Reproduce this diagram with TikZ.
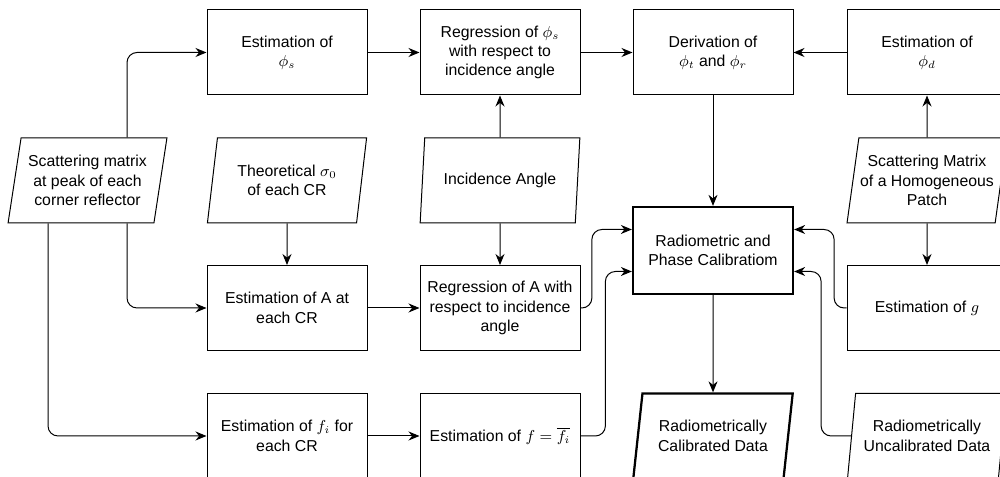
\documentclass[tikz,border=0pt]{standalone}
\usepackage{fontspec}
\setmainfont{Liberation Sans}
\usetikzlibrary{shapes.geometric,arrows.meta,calc}
\tikzset{
  procbox/.style={draw,line width=0.02cm,minimum width=3.2cm,minimum height=1.7cm,
    align=center,inner sep=1pt,font=\fontsize{9}{11}\selectfont},
  databox/.style={procbox,trapezium,trapezium left angle=77,trapezium right angle=103,
    trapezium stretches=true,inner sep=0pt},
  thickbox/.style={line width=0.045cm},
  flow/.style={line width=0.02cm,-{Stealth[length=0.22cm,width=0.18cm]},rounded corners=0.2cm}
}
\begin{document}
\begin{tikzpicture}
                \useasboundingbox (0.000000,0.000000) rectangle (20.000000,9.540000);
                
                % Input data
                \node [databox] (sm) at (1.750000,5.930000) {Scattering matrix\\at peak of each\\corner reflector};
                \node [databox] (theo) at (5.740000,5.930000) {Theoretical $\sigma_0$\\of each CR};
                \node [databox] (inc) at (10.000000,5.930000) {Incidence Angle};
                \node [databox] (smh) at (18.540000,5.930000) {Scattering Matrix\\of a Homogeneous\\Patch};
                \node [databox] (uncal) at (18.540000,0.820000) {Radiometrically\\Uncalibrated Data};
                
                % Top row
                \node [procbox] (estphis) at (5.740000,8.490000) {Estimation of\\$\phi_s$};
                \node [procbox] (regphis) at (10.000000,8.490000) {Regression of $\phi_s$\\with respect to\\incidence angle};
                \node [procbox] (deriv) at (14.260000,8.490000) {Derivation of\\$\phi_t$ and $\phi_r$};
                \node [procbox] (estphid) at (18.540000,8.490000) {Estimation of\\$\phi_d$};
                
                % Calibration
                \node [procbox,thickbox,minimum height=1.74cm] (cal) at (14.260000,4.530000) {Radiometric and\\Phase Calibratiom};
                \node [databox,thickbox] (caldata) at (14.260000,0.820000) {Radiometrically\\Calibrated Data};
                
                % Third row
                \node [procbox] (estA) at (5.740000,3.380000) {Estimation of A at\\each CR};
                \node [procbox] (regA) at (10.000000,3.380000) {Regression of A with\\respect to incidence\\angle};
                \node [procbox] (estg) at (18.540000,3.380000) {Estimation of $g$};
                
                % Bottom row
                \node [procbox] (estfi) at (5.740000,0.820000) {Estimation of $f_i$ for\\each CR};
                \node [procbox] (estf) at (10.000000,0.820000) {Estimation of $f=\overline{f_i}$};
                
                % Drawing flows from scattering matrix
                \draw [flow] ([xshift=0.79cm]sm.north) |- (estphis.west);%
                \draw [flow] ([xshift=0.79cm]sm.south) |- (estA.west);%
                \draw [flow] ([xshift=-0.79cm]sm.south) |- (estfi.west);%
                
                % Drawing straight flows
                \draw [flow] (theo) -- (estA);%
                \draw [flow] (inc) -- (regphis);%
                \draw [flow] (inc) -- (regA);%
                \draw [flow] (estphis) -- (regphis);%
                \draw [flow] (regphis) -- (deriv);%
                \draw [flow] (estphid) -- (deriv);%
                \draw [flow] (smh) -- (estphid);%
                \draw [flow] (smh) -- (estg);%
                \draw [flow] (estA) -- (regA);%
                \draw [flow] (estfi) -- (estf);%
                \draw [flow] (deriv) -- (cal);%
                \draw [flow] (cal) -- (caldata);%
                
                % Drawing flows into calibration
                \draw [flow] (regA.east) -| ($(cal.west)+(-0.800000,0.420000)$) -- ($(cal.west)+(0.000000,0.420000)$);%
                \draw [flow] (estf.east) -| ($(cal.west)+(-0.530000,-0.420000)$) -- ($(cal.west)+(0.000000,-0.420000)$);%
                \draw [flow] (estg.west) -| ($(cal.east)+(0.800000,0.420000)$) -- ($(cal.east)+(0.000000,0.420000)$);%
                \draw [flow] (uncal.west) -| ($(cal.east)+(0.540000,-0.420000)$) -- ($(cal.east)+(0.000000,-0.420000)$);%
\end{tikzpicture}
\end{document}
